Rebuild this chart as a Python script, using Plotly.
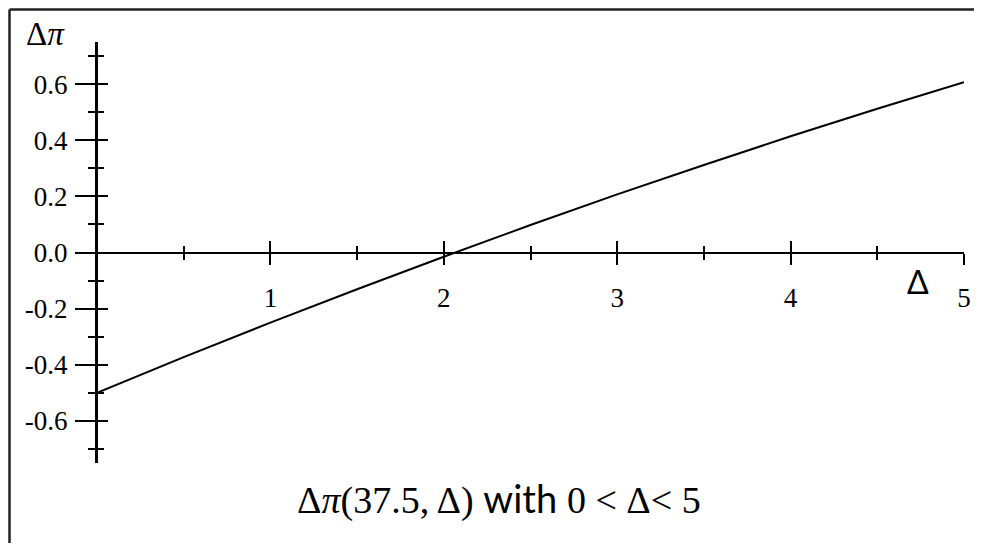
import plotly.graph_objects as go

# values
delta = [0.0, 0.5, 1.0, 1.5, 2.0, 2.5, 3.0, 3.5, 4.0, 4.5, 5.0]
d_pi = [-0.500, -0.373, -0.250, -0.131, -0.015, 0.098, 0.207, 0.312, 0.414, 0.512, 0.607]

x_ticks = [1, 2, 3, 4, 5]
y_ticks = [-0.6, -0.4, -0.2, 0.0, 0.2, 0.4, 0.6]
y_labels = ["-0.6", "-0.4", "-0.2", "0.0", "0.2", "0.4", "0.6"]

# the page body has an 8px margin, so the figure is drawn 8px in from the corner
OFF = 8
W, H = 984 - 2 * OFF, 553 - 2 * OFF
# plot box in screen pixels (left, top, right, bottom)
L, T, R, B = 97 - OFF, 42 - OFF, 964 - OFF, 463 - OFF

SERIF = "Liberation Serif, Times New Roman, serif"
SANS = "Lato, Open Sans, sans-serif"


def px_x(p):
    return (p - OFF - L) / (R - L)


def px_y(p):
    return (B - (p - OFF)) / (B - T)


fig = go.Figure()
fig.add_trace(go.Scatter(x=delta, y=d_pi, mode="lines",
                         line=dict(color="black", width=2),
                         showlegend=False, hoverinfo="skip"))
# empty trace so the overlay axes (inner halves of the ticks) get drawn
fig.add_trace(go.Scatter(x=[], y=[], xaxis="x2", yaxis="y2",
                         showlegend=False, hoverinfo="skip"))

axis_common = dict(showgrid=False, zeroline=False, showline=True,
                   linecolor="black", linewidth=2, tickcolor="black",
                   tickwidth=2, fixedrange=True, automargin=False)

fig.update_layout(
    width=W, height=H,
    margin=dict(l=L, r=W - R, t=T, b=H - B),
    paper_bgcolor="white", plot_bgcolor="white",
    font=dict(family=SERIF, color="black", size=27),
    xaxis=dict(range=[0, 5], anchor="free", position=0.5,
               tickvals=x_ticks, ticks="outside", ticklen=11,
               ticklabelstandoff=10,
               minor=dict(dtick=0.5, ticks="outside", ticklen=6,
                          tickcolor="black", tickwidth=2),
               **axis_common),
    xaxis2=dict(range=[0, 5], overlaying="x", anchor="free", position=0.5,
                tickvals=x_ticks, ticks="inside", ticklen=11,
                showticklabels=False,
                minor=dict(dtick=0.5, ticks="inside", ticklen=6,
                           tickcolor="black", tickwidth=2),
                **axis_common),
    yaxis=dict(range=[-0.75, 0.75], tickvals=y_ticks, ticktext=y_labels,
               ticks="outside", ticklen=20, ticklabelstandoff=2,
               minor=dict(dtick=0.1, ticks="outside", ticklen=7,
                          tickcolor="black", tickwidth=2),
               **axis_common),
    yaxis2=dict(range=[-0.75, 0.75], overlaying="y", anchor="free",
                position=0, tickvals=y_ticks, ticks="inside", ticklen=10,
                showticklabels=False,
                minor=dict(dtick=0.1, ticks="inside", ticklen=6,
                           tickcolor="black", tickwidth=2),
                **axis_common),
)

# frame around the picture: only its left and top edges are inside the image
frame = dict(type="line", xref="paper", yref="paper",
             line=dict(color="#222222", width=2.5))
edge = OFF + 1.5
fig.add_shape(x0=px_x(edge), x1=px_x(edge), y0=px_y(edge), y1=px_y(OFF + H - 2), **frame)
fig.add_shape(x0=px_x(edge), x1=px_x(OFF + W - 2), y0=px_y(edge), y1=px_y(edge), **frame)

# axis titles
fig.add_annotation(text="Δ<i>π</i>", xref="paper", yref="paper",
                   x=px_x(45), y=px_y(34), xanchor="center", yanchor="middle",
                   showarrow=False, font=dict(family=SERIF, size=33))
fig.add_annotation(text="Δ", xref="x", yref="paper",
                   x=4.735, y=px_y(281), xanchor="center", yanchor="middle",
                   showarrow=False, font=dict(family=SANS, size=32))

# caption
caption = ("<span style='font-family:Liberation Serif'>Δ<i>π</i>(37.5, Δ)</span>"
           " with "
           "<span style='font-family:Liberation Serif'>0 &lt; Δ&lt; 5</span>")
fig.add_annotation(text=caption, xref="paper", yref="paper",
                   x=px_x(499), y=px_y(498), xanchor="center", yanchor="middle",
                   showarrow=False, font=dict(family=SANS, size=38))

fig.write_html("out.html")
